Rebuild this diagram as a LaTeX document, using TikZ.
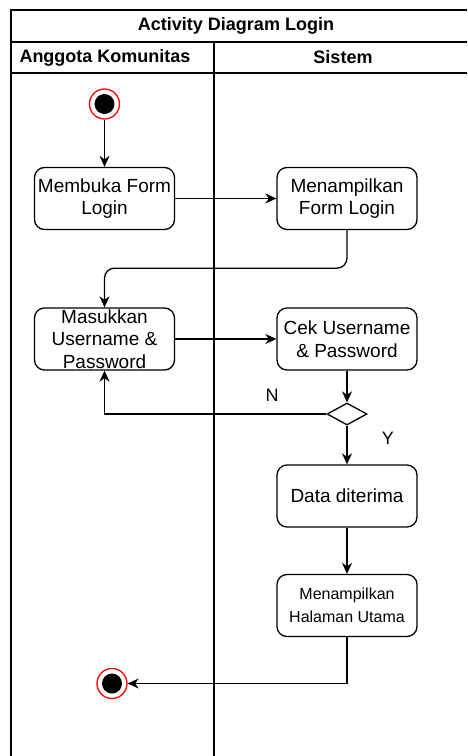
\documentclass[tikz,border=0pt]{standalone}
\usepackage{fontspec}
\setmainfont{Liberation Sans}
\usetikzlibrary{arrows.meta,shapes.geometric}
\begin{document}
\begin{tikzpicture}[x=1pt,y=-1pt,line width=1.3pt,
  frame/.style={line width=1.6pt},
  act/.style={draw, rounded corners=10pt, minimum width=140pt, minimum height=62pt,
    align=center, inner sep=0pt, font=\fontsize{19}{22.5}\selectfont},
  smallact/.style={act, font=\fontsize{16}{23}\selectfont},
  arr/.style={-{Stealth[length=11pt,width=10pt,inset=3.5pt]}},
  ring/.style={circle, draw=red, line width=1.3pt, fill=white, minimum size=30pt, inner sep=0pt},
  dot/.style={circle, fill=black, minimum size=20pt, inner sep=0pt},
  dec/.style={diamond, draw, minimum width=40pt, minimum height=22pt, inner sep=0pt},
  head/.style={font=\bfseries\fontsize{18}{20}\selectfont, inner sep=0pt},
  lbl/.style={font=\fontsize{18}{20}\selectfont, inner sep=0pt}]
\useasboundingbox (0,0) rectangle (467,756);
% swimlane frame
\draw[frame] (467,10) -- (11,10) -- (11,756);
\draw[frame] (11,42) -- (467,42);
\draw[frame] (11,73) -- (467,73);
\draw[frame] (214,42) -- (214,756);
\node[head] (title) at (236,26) {Activity Diagram Login};
\node[head] (laneA) at (105,57.5) {Anggota Komunitas};
\node[head] (laneB) at (343,57.5) {Sistem};
% nodes
\node[ring] (start) at (104.5,104) {};
\node[dot] (startdot) at (start) {};
\node[act] (b1) at (104.5,198.5) {Membuka Form\\Login};
\node[act] (b2) at (347,198.5) {Menampilkan\\Form Login};
\node[act] (b3) at (104.5,339) {Masukkan\\Username \&\\Password};
\node[act] (b4) at (347,339) {Cek Username\\\& Password};
\node[dec] (dia) at (347,414) {};
\node[act] (b5) at (347,496) {Data diterima};
\node[smallact] (b6) at (347,605.5) {Menampilkan\\Halaman Utama};
\node[ring] (end) at (112,683.5) {};
\node[dot] (enddot) at (end) {};
\node[lbl] (lN) at (272,395) {N};
\node[lbl] (lY) at (388,438) {Y};
% connectors
\draw[arr] (start) -- (b1);
\draw[arr] (b1) -- (b2);
\draw[arr, rounded corners=10pt] (b2.south) -- ++(0,38) -| (b3.north);
\draw[arr] (b3) -- (b4);
\draw[arr] (b4) -- (dia);
\draw[arr] (dia.west) -| (b3.south);
\draw[arr] (dia) -- (b5);
\draw[arr] (b5) -- (b6);
\draw[arr] (b6.south) |- (end);
\end{tikzpicture}
\end{document}
